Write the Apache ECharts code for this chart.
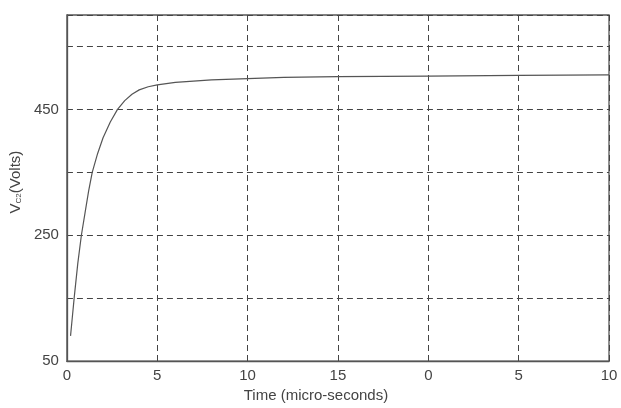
<!DOCTYPE html>
<html>
<head>
<meta charset="utf-8">
<script src="https://cdn.jsdelivr.net/npm/echarts@6/dist/echarts.min.js"></script>
<style>
html,body{margin:0;padding:0;background:#fff;}
#c{width:621px;height:408px;}
</style>
</head>
<body>
<div id="c"></div>
<script>
const timeUs = [0.2,0.3,0.4,0.6,0.8,1.0,1.2,1.4,1.7,2.0,2.4,2.8,3.2,3.6,4.0,4.5,5,6,7,8,10,12,15,20,25,30];
const vc2 = [90,120,150,205,250,285,320,350,380,405,430,450,464,474,481,486,489,493,495,497,499,501,502,503,504,505];
const xTickLabels = ['0','5','10','15','0','5','10'];
const yTickLabels = {50:'50',250:'250',450:'450'};

const chart = echarts.init(document.getElementById('c'), null, {renderer:'canvas'});
const txt = '#444';
const grid = '#444';
chart.setOption({
  animation:false,
  backgroundColor:'#fff',
  grid:{left:66,right:12,top:15,bottom:46,show:true,borderColor:'#555',borderWidth:1.3,backgroundColor:'transparent'},
  xAxis:{
    type:'value',min:0,max:30,interval:5,
    name:'Time (micro-seconds)',nameLocation:'middle',nameGap:16,
    nameTextStyle:{color:txt,fontSize:15,fontFamily:'Liberation Sans, Arial, sans-serif',padding:[0,44,0,0]},
    axisLine:{show:true,lineStyle:{color:'#555',width:1.3}},
    axisTick:{show:false},
    axisLabel:{color:txt,fontSize:15,fontFamily:'Liberation Sans, Arial, sans-serif',margin:7,
      formatter:function(v){return xTickLabels[Math.round(v/5)];}},
    splitLine:{show:true,lineStyle:{color:grid,type:[6,4],width:1}}
  },
  yAxis:{
    type:'value',min:50,max:600,interval:100,
    name:'{v|V}{s|C2}{v|(Volts)}',nameLocation:'middle',nameGap:40,nameRotate:90,
    nameTextStyle:{color:txt,fontFamily:'Liberation Sans, Arial, sans-serif',padding:[0,0,0,12],
      rich:{v:{fontSize:15,color:txt,fontFamily:'Liberation Sans, Arial, sans-serif'},
            s:{fontSize:8,color:txt,fontFamily:'Liberation Sans, Arial, sans-serif',verticalAlign:'bottom',padding:[6,0,0,0]}}},
    axisLine:{show:true,lineStyle:{color:'#555',width:1.3}},
    axisTick:{show:false},
    axisLabel:{color:txt,fontSize:15,fontFamily:'Liberation Sans, Arial, sans-serif',margin:8,
      formatter:function(v){return yTickLabels[v]||'';}},
    splitLine:{show:true,lineStyle:{color:grid,type:[6,4],width:1}}
  },
  series:[{
    type:'line',
    data:timeUs.map((t,i)=>[t,vc2[i]]),
    showSymbol:false,
    lineStyle:{color:'#555',width:1.2},
    smooth:false
  }]
});
</script>
</body>
</html>
